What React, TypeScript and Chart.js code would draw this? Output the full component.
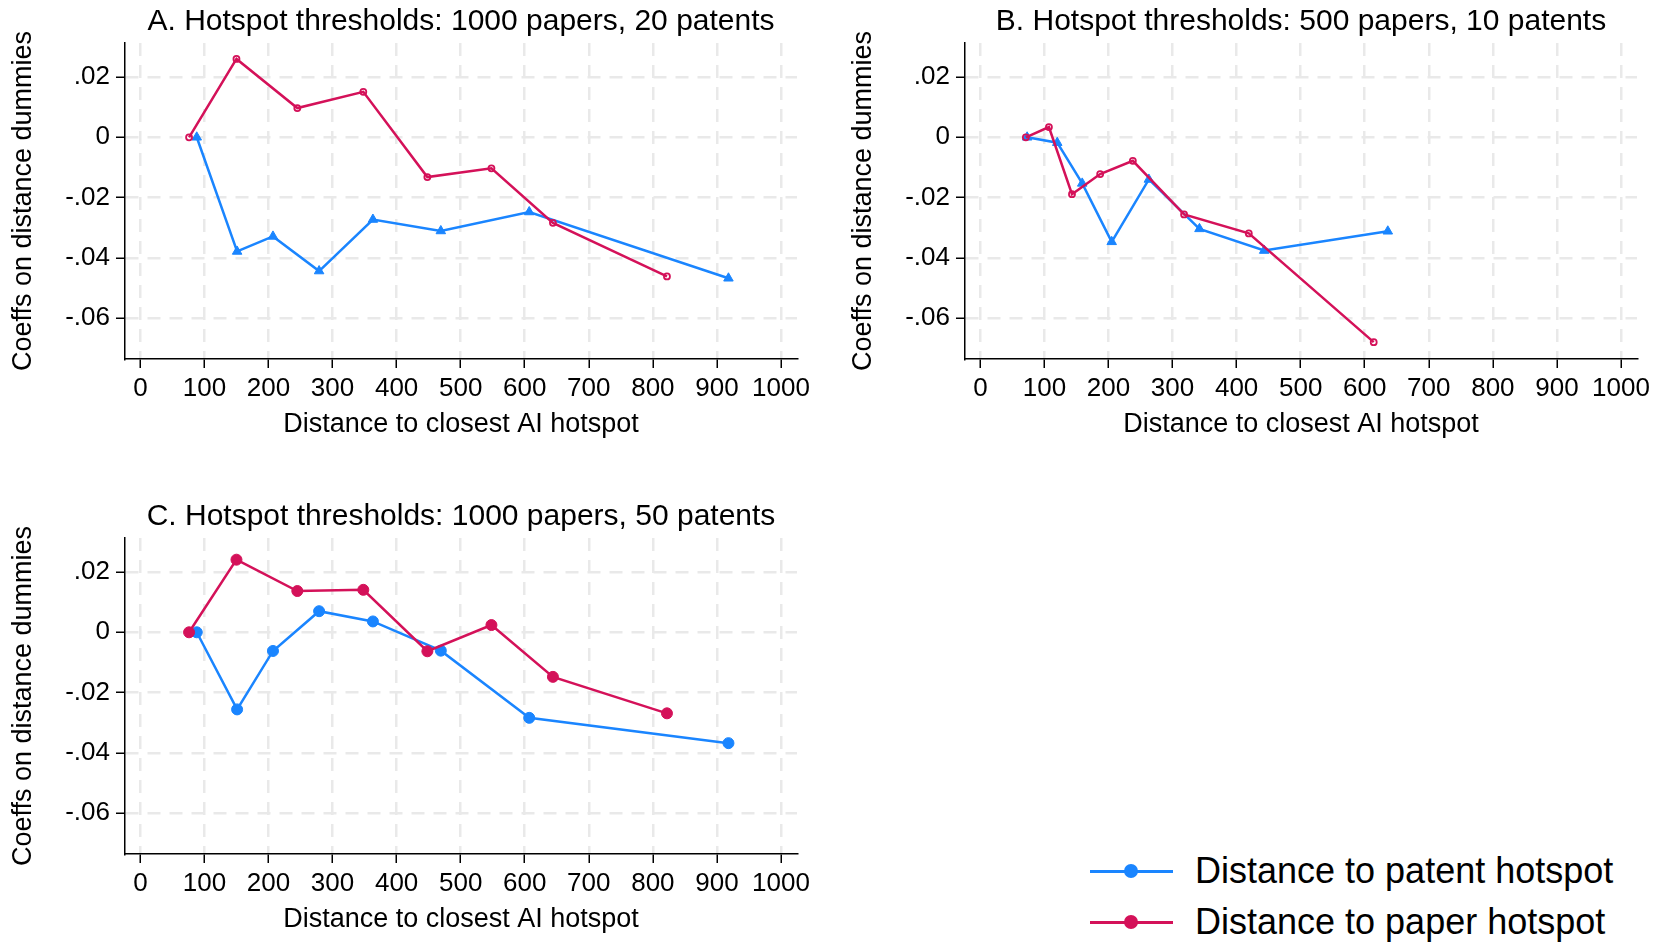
import React, { useEffect, useRef } from "react";
import { Chart, registerables } from "chart.js";

Chart.register(...registerables);

// ---------- data ----------
const xTickValues = [0, 100, 200, 300, 400, 500, 600, 700, 800, 900, 1000];
const yTickValues = [0.02, 0, -0.02, -0.04, -0.06];
const yTickLabels = [".02", "0", "-.02", "-.04", "-.06"];

const seriesNames = ["Distance to patent hotspot", "Distance to paper hotspot"];
const panelTitles = [
  "A. Hotspot thresholds: 1000 papers, 20 patents",
  "B. Hotspot thresholds: 500 papers, 10 patents",
  "C. Hotspot thresholds: 1000 papers, 50 patents",
];
const xAxisTitle = "Distance to closest AI hotspot";
const yAxisTitle = "Coeffs on distance dummies";

// Panel A
const aPatentX = [88, 151, 207, 279, 363, 469, 607, 918];
const aPatentY = [0, -0.0379, -0.0329, -0.0444, -0.0273, -0.0311, -0.0248, -0.0468];
const aPaperX = [76, 150, 245, 348, 448, 548, 644, 822];
const aPaperY = [0, 0.026, 0.0097, 0.0151, -0.0132, -0.0103, -0.0284, -0.0462];

// Panel B
const bPatentX = [73, 120, 159, 205, 263, 342, 443, 636];
const bPatentY = [0, -0.0018, -0.0153, -0.0347, -0.014, -0.0304, -0.0376, -0.0312];
const bPaperX = [71, 107, 143, 187, 238, 318, 419, 614];
const bPaperY = [0, 0.0034, -0.0189, -0.0122, -0.0078, -0.0256, -0.0319, -0.068];

// Panel C
const cPatentX = [88, 151, 207, 279, 363, 469, 607, 918];
const cPatentY = [0, -0.0256, -0.0062, 0.007, 0.0036, -0.0061, -0.0284, -0.0368];
const cPaperX = [76, 150, 245, 348, 448, 548, 644, 822];
const cPaperY = [0, 0.0241, 0.0137, 0.0141, -0.0063, 0.0024, -0.0148, -0.0269];

// ---------- style ----------
const BLUE = "#1a85ff";
const RED = "#d41159";
const FONT = "'Liberation Sans', Arial, Helvetica, sans-serif";
const X_MIN = -24;
const X_MAX = 1025;
const Y_MIN = -0.0736;
const Y_MAX = 0.0313;

type PanelProps = {
  title: string;
  patentX: number[];
  patentY: number[];
  paperX: number[];
  paperY: number[];
  left: number;
  top: number;
  width: number;
  height: number;
  padRight: number;
  padBottom: number;
  filledCircles: boolean;
};

function toPoints(xs: number[], ys: number[]) {
  return xs.map((x, i) => ({ x, y: ys[i] }));
}

function Panel(p: PanelProps) {
  const ref = useRef<HTMLCanvasElement | null>(null);
  useEffect(() => {
    if (!ref.current) return;
    const patentMarker = p.filledCircles
      ? { pointStyle: "circle", pointRadius: 5.5, pointBackgroundColor: BLUE, pointBorderColor: BLUE, pointBorderWidth: 1 }
      : { pointStyle: "triangle", pointRadius: 5.5, pointBackgroundColor: BLUE, pointBorderColor: BLUE, pointBorderWidth: 1 };
    const paperMarker = p.filledCircles
      ? { pointStyle: "circle", pointRadius: 5.5, pointBackgroundColor: RED, pointBorderColor: RED, pointBorderWidth: 1 }
      : { pointStyle: "circle", pointRadius: 3, pointBackgroundColor: "rgba(255,255,255,0)", pointBorderColor: RED, pointBorderWidth: 1.8 };
    const chart = new Chart(ref.current, {
      type: "scatter",
      data: {
        datasets: [
          {
            label: seriesNames[0],
            data: toPoints(p.patentX, p.patentY),
            showLine: true,
            borderColor: BLUE,
            borderWidth: 2.5,
            order: 2,
            ...patentMarker,
          } as any,
          {
            label: seriesNames[1],
            data: toPoints(p.paperX, p.paperY),
            showLine: true,
            borderColor: RED,
            borderWidth: 2.5,
            order: 1,
            ...paperMarker,
          } as any,
        ],
      },
      options: {
        responsive: false,
        animation: false,
        devicePixelRatio: 1,
        layout: { padding: { left: 0, top: 0, right: p.padRight, bottom: p.padBottom } },
        plugins: {
          legend: { display: false },
          tooltip: { enabled: false },
          title: {
            display: true,
            fullSize: false,
            text: p.title,
            color: "#000",
            font: { size: 30, family: FONT, weight: "normal" as any },
            padding: { top: 3.5, bottom: 3.5 },
          },
        },
        scales: {
          x: {
            type: "linear",
            min: X_MIN,
            max: X_MAX,
            afterBuildTicks: (s: any) => {
              s.ticks = xTickValues.map((v) => ({ value: v }));
            },
            afterFit: (s: any) => {
              s.height = 82;
            },
            ticks: {
              color: "#000",
              font: { size: 26, family: FONT },
              padding: 5,
              maxRotation: 0,
              autoSkip: false,
              callback: (v: any) => String(v),
            },
            grid: {
              color: "#e9e9e9",
              lineWidth: 2.5,
              drawTicks: true,
              tickLength: 9,
              tickColor: "#000",
              tickWidth: 1.5,
            },
            border: { display: true, color: "#000", width: 1.5, dash: [13, 9] },
            title: {
              display: true,
              text: xAxisTitle,
              color: "#000",
              font: { size: 27, family: FONT },
              padding: { top: 0, bottom: 0 },
            },
          },
          y: {
            type: "linear",
            min: Y_MIN,
            max: Y_MAX,
            afterBuildTicks: (s: any) => {
              s.ticks = yTickValues.map((v) => ({ value: v }));
            },
            afterFit: (s: any) => {
              s.width = 125;
            },
            ticks: {
              color: "#000",
              font: { size: 26, family: FONT },
              padding: 6,
              autoSkip: false,
              callback: (v: any) => {
                const i = yTickValues.findIndex((t) => Math.abs(t - Number(v)) < 1e-9);
                return i >= 0 ? yTickLabels[i] : "";
              },
            },
            grid: {
              color: "#e9e9e9",
              lineWidth: 2.5,
              drawTicks: true,
              tickLength: 9,
              tickColor: "#000",
              tickWidth: 1.5,
            },
            border: { display: true, color: "#000", width: 1.5, dash: [13, 9] },
            title: {
              display: true,
              text: yAxisTitle,
              color: "#000",
              font: { size: 27, family: FONT },
              padding: { top: 7, bottom: 0 },
            },
          },
        },
      } as any,
    });
    return () => chart.destroy();
  }, []);
  return (
    <canvas
      ref={ref}
      width={p.width}
      height={p.height}
      style={{ position: "absolute", left: p.left, top: p.top, width: p.width, height: p.height }}
    />
  );
}

const LEG_LINE_X = 1090;
const LEG_TEXT_X = 1195;

function LegendRow({ color, label, y }: { color: string; label: string; y: number }) {
  return (
    <>
      <div style={{ position: "absolute", left: LEG_LINE_X, top: y - 1.5, width: 83, height: 3, background: color }} />
      <div
        style={{
          position: "absolute",
          left: LEG_LINE_X + 41 - 7,
          top: y - 7,
          width: 14,
          height: 14,
          borderRadius: "50%",
          background: color,
        }}
      />
      <div
        style={{
          position: "absolute",
          left: LEG_TEXT_X,
          top: y - 25,
          height: 50,
          lineHeight: "50px",
          fontSize: 36,
          fontFamily: FONT,
          color: "#000",
          whiteSpace: "nowrap",
        }}
      >
        {label}
      </div>
    </>
  );
}

export default function App() {
  return (
    <div
      style={{
        position: "fixed",
        left: 0,
        top: 0,
        width: 1670,
        height: 944,
        background: "#fff",
        overflow: "hidden",
      }}
    >
      <Panel
        title={panelTitles[0]}
        patentX={aPatentX}
        patentY={aPatentY}
        paperX={aPaperX}
        paperY={aPaperY}
        left={0}
        top={0}
        width={840}
        height={460}
        padRight={43}
        padBottom={19}
        filledCircles={false}
      />
      <Panel
        title={panelTitles[1]}
        patentX={bPatentX}
        patentY={bPatentY}
        paperX={bPaperX}
        paperY={bPaperY}
        left={840}
        top={0}
        width={830}
        height={460}
        padRight={33}
        padBottom={19}
        filledCircles={false}
      />
      <Panel
        title={panelTitles[2]}
        patentX={cPatentX}
        patentY={cPatentY}
        paperX={cPaperX}
        paperY={cPaperY}
        left={0}
        top={495}
        width={840}
        height={449}
        padRight={43}
        padBottom={8}
        filledCircles={true}
      />
      <LegendRow color={BLUE} label={seriesNames[0]} y={871} />
      <LegendRow color={RED} label={seriesNames[1]} y={922} />
    </div>
  );
}
